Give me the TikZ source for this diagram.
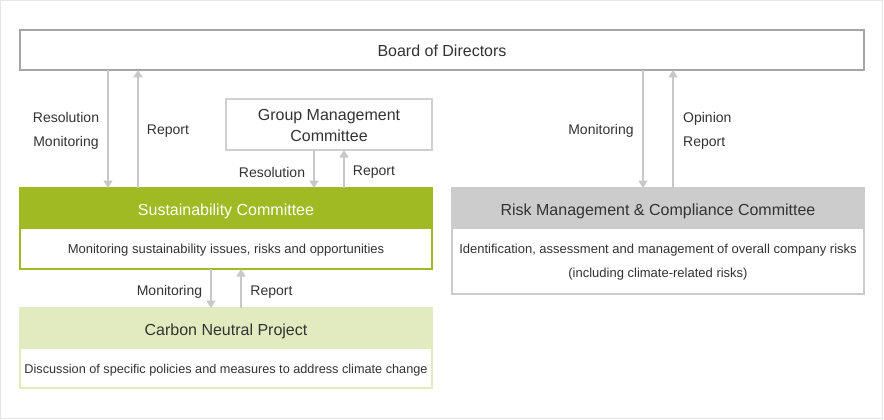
\documentclass[tikz,border=0pt]{standalone}
\usepackage{fontspec}
\setmainfont{Liberation Sans}
\usetikzlibrary{arrows.meta}
\definecolor{txt}{HTML}{333333}
\definecolor{frameg}{HTML}{E6E6E6}
\definecolor{boardg}{HTML}{A6A6A6}
\definecolor{groupg}{HTML}{D0D0D0}
\definecolor{arrg}{HTML}{C8C8C8}
\definecolor{sgreen}{HTML}{A0BA24}
\definecolor{lgreen}{HTML}{E2EBC0}
\definecolor{riskg}{HTML}{CCCCCC}
\tikzset{
  hdfont/.style={font=\fontsize{16}{21}\selectfont},
  bdfont/.style={font=\fontsize{13}{24}\selectfont},
  lbfont/.style={font=\fontsize{14}{24}\selectfont},
  boxbase/.style={rectangle, inner sep=0pt, outer sep=0pt},
  hdrbox/.style={boxbase, minimum width=412pt, minimum height=41pt},
  bodybox/.style={boxbase, fill=white, minimum width=412pt},
  htext/.style={hdfont, text=txt, inner sep=0pt, align=center},
  btext/.style={bdfont, text=txt, inner sep=0pt, align=center},
  conn/.style={draw=arrg, line width=1.7pt, -{Triangle[width=9pt,length=7.5pt]}},
  lbl/.style={lbfont, text=txt, inner sep=0pt, align=center},
}
\begin{document}
\begin{tikzpicture}[x=1pt,y=-1pt]
\useasboundingbox (0,0) rectangle (884,420);
\fill[white] (0,0) rectangle (884,420);
\draw[frameg, line width=1.2pt] (0.6,0.6) rectangle (882.4,418.4);

% Board
\node[boxbase, draw=boardg, line width=2pt, minimum width=844pt, minimum height=40pt] (board) at (442,50) {};
\node[htext] (boardT) at ([yshift=-1pt]board.center) {Board of Directors};

% Group Management Committee
\node[boxbase, draw=groupg, line width=1.8pt, minimum width=206pt, minimum height=51pt] (group) at (329,124.5) {};
\node[htext] (groupT) at ([yshift=-1pt]group.center) {Group Management\\Committee};

% Sustainability Committee
\node[bodybox, draw=sgreen, line width=2pt, minimum height=81pt] (sus) at (226,228.5) {};
\node[hdrbox, fill=sgreen, anchor=north] (sush) at (sus.north) {};
\node[htext, text=white] (sushT) at ([yshift=-3pt]sush.center) {Sustainability Committee};
\node[btext] (susbT) at ([yshift=-21pt]sush.south) {Monitoring sustainability issues, risks and opportunities};

% Carbon Neutral Project
\node[bodybox, draw=lgreen, line width=2pt, minimum height=80pt] (car) at (226,348) {};
\node[hdrbox, fill=lgreen, anchor=north] (carh) at (car.north) {};
\node[htext] (carhT) at ([yshift=-3pt]carh.center) {Carbon Neutral Project};
\node[btext, font=\fontsize{12.7}{24}\selectfont] (carbT) at ([yshift=-21.5pt]carh.south) {Discussion of specific policies and measures to address climate change};

% Risk Management
\node[bodybox, draw=riskg, line width=2pt, minimum height=106pt] (risk) at (658,241) {};
\node[hdrbox, fill=riskg, anchor=north] (riskh) at (risk.north) {};
\node[htext] (riskhT) at ([yshift=-3pt]riskh.center) {Risk Management \& Compliance Committee};
\node[btext] (riskbT) at ([yshift=-33.5pt]riskh.south) {Identification, assessment and management of overall company risks\\(including climate-related risks)};

% Connectors: Board <-> Sustainability
\draw[conn] ([xshift=88pt]board.south west) -- ([xshift=88pt]sus.north west);
\draw[conn] ([xshift=118pt]sus.north west) -- ([xshift=118pt]board.south west);
% Group <-> Sustainability
\draw[conn] ([xshift=88pt]group.south west) -- ([xshift=294pt]sus.north west);
\draw[conn] ([xshift=324pt]sus.north west) -- ([xshift=118pt]group.south west);
% Sustainability <-> Carbon
\draw[conn] ([xshift=191pt]sus.south west) -- ([xshift=191pt]car.north west);
\draw[conn] ([xshift=221pt]car.north west) -- ([xshift=221pt]sus.south west);
% Board <-> Risk
\draw[conn] ([xshift=623pt]board.south west) -- ([xshift=191pt]risk.north west);
\draw[conn] ([xshift=221pt]risk.north west) -- ([xshift=653pt]board.south west);

% Labels
\node[lbl] (l1) at (66,131) {Resolution\\Monitoring};
\node[lbl] (l2) at (168,131) {Report};
\node[lbl] (l3) at (272,172) {Resolution};
\node[lbl] (l4) at (374,172) {Report};
\node[lbl] (l5) at (169.5,292) {Monitoring};
\node[lbl] (l6) at (271.5,292) {Report};
\node[lbl] (l7) at (601,131) {Monitoring};
\node[lbl, align=left, anchor=west] (l8) at (683,131) {Opinion\\Report};
\end{tikzpicture}
\end{document}
